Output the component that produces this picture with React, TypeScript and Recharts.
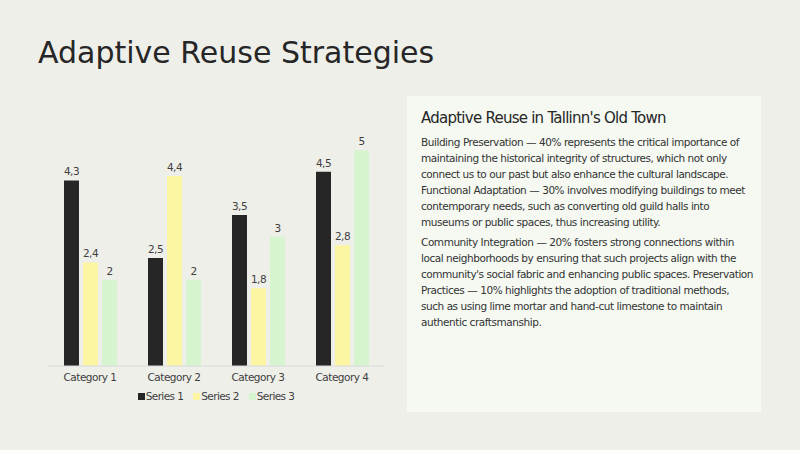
import { BarChart, Bar, XAxis, YAxis, Legend, LabelList } from "recharts";

const categories = ["Category 1", "Category 2", "Category 3", "Category 4"];
const series1 = [4.3, 2.5, 3.5, 4.5];
const series2 = [2.4, 4.4, 1.8, 2.8];
const series3 = [2, 2, 3, 5];
const seriesNames = ["Series 1", "Series 2", "Series 3"];

const data = categories.map((name, i) => ({ name, s1: series1[i], s2: series2[i], s3: series3[i] }));

const colors = ["#262626", "#fcf6a2", "#d6f5cf"];
const font = "'DejaVu Sans', Verdana, sans-serif";
const small = { fontSize: 10.5, fill: "#404040", fontFamily: font, letterSpacing: "-0.5px" };

const paragraphs = [
  [
    "Building Preservation — 40% represents the critical importance of",
    "maintaining the historical integrity of structures, which not only",
    "connect us to our past but also enhance the cultural landscape.",
    "Functional Adaptation — 30% involves modifying buildings to meet",
    "contemporary needs, such as converting old guild halls into",
    "museums or public spaces, thus increasing utility.",
  ],
  [
    "Community Integration — 20% fosters strong connections within",
    "local neighborhoods by ensuring that such projects align with the",
    "community's social fabric and enhancing public spaces. Preservation",
    "Practices — 10% highlights the adoption of traditional methods,",
    "such as using lime mortar and hand-cut limestone to maintain",
    "authentic craftsmanship.",
  ],
];

const fmt = (v: number) => String(v).replace(".", ",");

function LegendContent() {
  return (
    <div style={{ display: "flex", justifyContent: "center", gap: 10, fontFamily: font, fontSize: 10.5, letterSpacing: "-0.6px", color: "#404040" }}>
      {seriesNames.map((n, i) => (
        <div key={n} style={{ display: "flex", alignItems: "center", gap: 1 }}>
          <span style={{ width: 7, height: 7, background: colors[i], display: "inline-block" }} />
          <span>{n}</span>
        </div>
      ))}
    </div>
  );
}

export default function App() {
  return (
    <div style={{ position: "fixed", left: 0, top: 0, width: 800, height: 450, background: "#efefea", fontFamily: font, overflow: "hidden" }}>
      <div style={{ position: "absolute", left: 38, top: 35, fontSize: 30, color: "#262626", whiteSpace: "nowrap" }}>
        Adaptive Reuse Strategies
      </div>
      <div style={{ position: "absolute", left: 0, top: 0 }}>
        <BarChart width={400} height={420} data={data} margin={{ top: 107, right: 16, left: 48, bottom: 8 }} barSize={15} barGap={4}>
          <XAxis dataKey="name" height={24} axisLine={{ stroke: "#d9d9d9" }} tickLine={false} tick={small} />
          <YAxis hide domain={[0, 6]} />
          <Legend verticalAlign="bottom" height={22} content={<LegendContent />} />
          <Bar dataKey="s1" name={seriesNames[0]} fill={colors[0]} isAnimationActive={false}>
            <LabelList dataKey="s1" position="top" offset={5} formatter={fmt} style={small} />
          </Bar>
          <Bar dataKey="s2" name={seriesNames[1]} fill={colors[1]} isAnimationActive={false}>
            <LabelList dataKey="s2" position="top" offset={5} formatter={fmt} style={small} />
          </Bar>
          <Bar dataKey="s3" name={seriesNames[2]} fill={colors[2]} isAnimationActive={false}>
            <LabelList dataKey="s3" position="top" offset={5} formatter={fmt} style={small} />
          </Bar>
        </BarChart>
      </div>
      <div style={{ position: "absolute", left: 407, top: 96, width: 354, height: 316, background: "#f5f9f2", boxSizing: "border-box", padding: "13px 14px" }}>
        <div style={{ fontSize: 15, letterSpacing: "-0.75px", color: "#262626", whiteSpace: "nowrap", marginBottom: 7 }}>Adaptive Reuse in Tallinn's Old Town</div>
        {paragraphs.map((p, i) => (
          <div key={i} style={{ marginBottom: 4 }}>
            {p.map((line) => (
              <div key={line} style={{ fontSize: 10.5, letterSpacing: "-0.45px", lineHeight: "16px", color: "#333", whiteSpace: "nowrap" }}>{line}</div>
            ))}
          </div>
        ))}
      </div>
    </div>
  );
}
